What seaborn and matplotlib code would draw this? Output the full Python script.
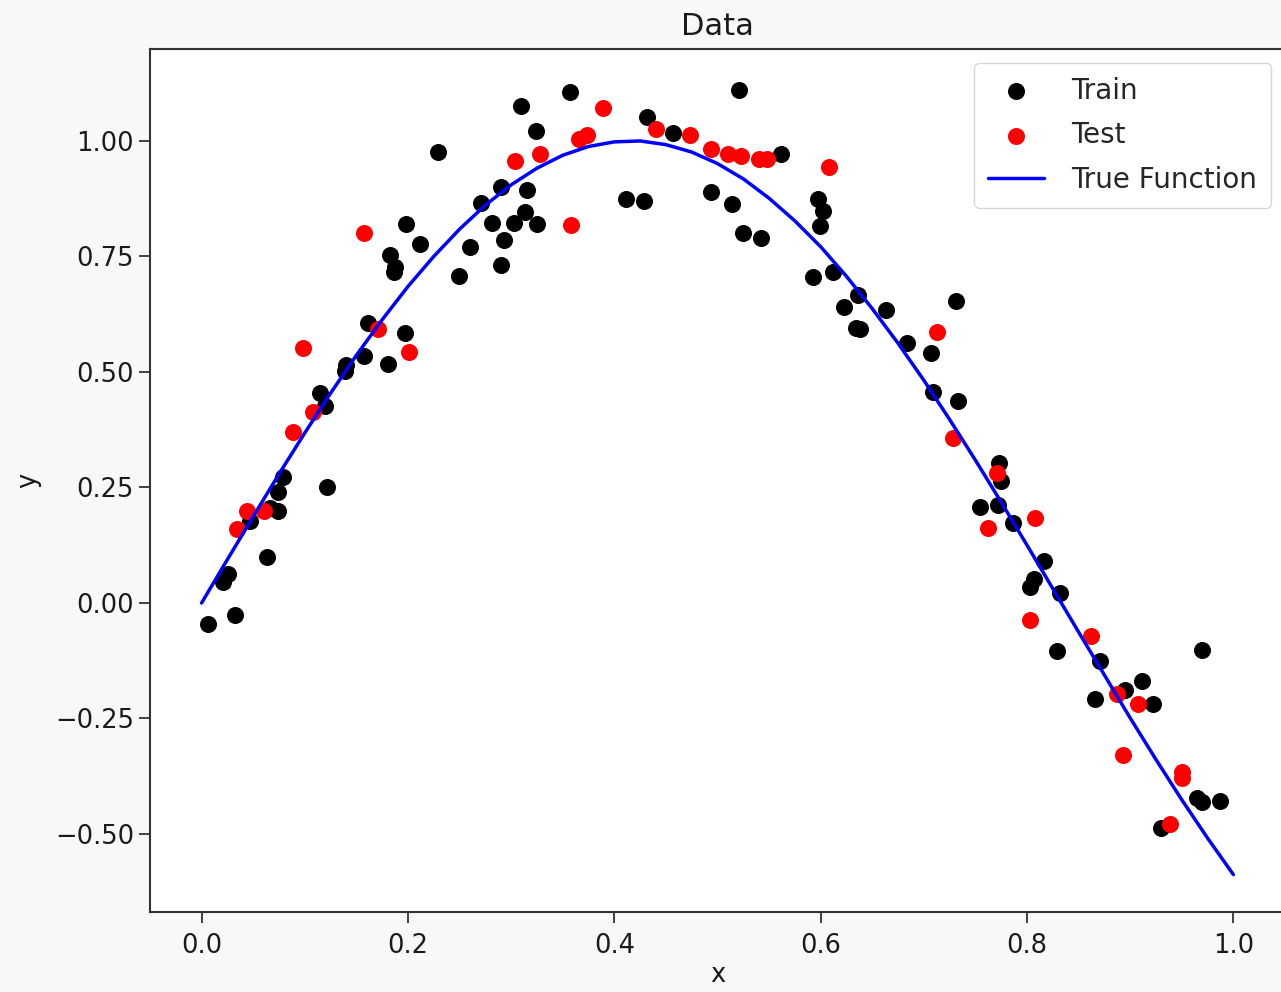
import numpy as np
import pandas as pd
import matplotlib
matplotlib.use("Agg")
import matplotlib.pyplot as plt
import seaborn as sns

# values
TRAIN_X = [0.006, 0.021, 0.026, 0.032, 0.047, 0.063, 0.066, 0.074, 0.074, 0.079,
           0.115, 0.120, 0.122, 0.139, 0.140, 0.157, 0.161, 0.181, 0.183, 0.186,
           0.187, 0.197, 0.198, 0.212, 0.229, 0.249, 0.260, 0.271, 0.281, 0.290,
           0.290, 0.293, 0.303, 0.310, 0.313, 0.315, 0.324, 0.325, 0.357, 0.411,
           0.429, 0.432, 0.457, 0.494, 0.514, 0.521, 0.525, 0.542, 0.562, 0.593,
           0.597, 0.599, 0.602, 0.612, 0.623, 0.634, 0.638, 0.636, 0.663, 0.684,
           0.707, 0.709, 0.731, 0.733, 0.754, 0.772, 0.773, 0.775, 0.786, 0.803,
           0.807, 0.816, 0.829, 0.832, 0.866, 0.871, 0.895, 0.911, 0.922, 0.930,
           0.965, 0.970, 0.970, 0.987]
TRAIN_Y = [-0.046, 0.046, 0.062, -0.026, 0.178, 0.100, 0.205, 0.198, 0.240, 0.272,
           0.454, 0.426, 0.252, 0.501, 0.515, 0.535, 0.605, 0.517, 0.753, 0.716,
           0.727, 0.584, 0.820, 0.777, 0.977, 0.707, 0.771, 0.865, 0.822, 0.900,
           0.732, 0.786, 0.822, 1.075, 0.846, 0.894, 1.022, 0.820, 1.105, 0.874,
           0.869, 1.051, 1.017, 0.889, 0.864, 1.110, 0.801, 0.790, 0.972, 0.706,
           0.874, 0.815, 0.849, 0.717, 0.640, 0.596, 0.594, 0.667, 0.635, 0.563,
           0.540, 0.457, 0.654, 0.438, 0.208, 0.212, 0.302, 0.264, 0.174, 0.035,
           0.051, 0.091, -0.105, 0.021, -0.208, -0.125, -0.188, -0.169, -0.219, -0.488,
           -0.423, -0.430, -0.102, -0.429]

TEST_X = [0.034, 0.044, 0.060, 0.089, 0.098, 0.108, 0.157, 0.171, 0.201, 0.304,
          0.328, 0.358, 0.366, 0.374, 0.389, 0.440, 0.473, 0.494, 0.510, 0.523,
          0.540, 0.548, 0.608, 0.713, 0.728, 0.762, 0.771, 0.803, 0.808, 0.862,
          0.887, 0.893, 0.908, 0.939, 0.950, 0.950]
TEST_Y = [0.160, 0.198, 0.198, 0.369, 0.552, 0.414, 0.800, 0.593, 0.544, 0.957,
          0.972, 0.817, 1.004, 1.013, 1.071, 1.026, 1.012, 0.983, 0.972, 0.967,
          0.962, 0.962, 0.943, 0.586, 0.358, 0.163, 0.281, -0.037, 0.183, -0.071,
          -0.196, -0.330, -0.219, -0.479, -0.365, -0.378]

CURVE_X = [0.000, 0.025, 0.050, 0.075, 0.100, 0.125, 0.150, 0.175, 0.200, 0.225,
           0.250, 0.275, 0.300, 0.325, 0.350, 0.375, 0.400, 0.425, 0.450, 0.475,
           0.500, 0.525, 0.550, 0.575, 0.600, 0.625, 0.650, 0.675, 0.700, 0.725,
           0.750, 0.775, 0.800, 0.825, 0.850, 0.875, 0.900, 0.925, 0.950, 0.975,
           1.000]
CURVE_Y = [0.000, 0.094, 0.187, 0.279, 0.368, 0.454, 0.536, 0.613, 0.685, 0.750,
           0.809, 0.861, 0.905, 0.941, 0.969, 0.988, 0.998, 1.000, 0.992, 0.976,
           0.951, 0.918, 0.876, 0.827, 0.771, 0.707, 0.637, 0.562, 0.482, 0.397,
           0.309, 0.218, 0.125, 0.031, -0.063, -0.156, -0.249, -0.339, -0.426, -0.509,
           -0.588]

FS = 18.5
SPINE = "#333333"
TXT = "#1a1a1a"

sns.set_style("ticks")
plt.rcParams["font.family"] = ["DejaVu Sans"]

train = pd.DataFrame({"x": TRAIN_X, "y": TRAIN_Y})
test = pd.DataFrame({"x": TEST_X, "y": TEST_Y})
curve = pd.DataFrame({"x": CURVE_X, "y": CURVE_Y})

fig = plt.figure(figsize=(12.81, 9.92), dpi=100, facecolor="#f8f8f8")
ax = fig.add_axes([0.1171, 0.0806, 0.886, 0.870])
ax.set_facecolor("white")

sns.scatterplot(data=train, x="x", y="y", color="black", s=150, linewidth=0,
                label="Train", ax=ax, zorder=3)
sns.scatterplot(data=test, x="x", y="y", color="red", s=150, linewidth=0,
                label="Test", ax=ax, zorder=3)
sns.lineplot(data=curve, x="x", y="y", color="blue", linewidth=2.5,
             label="True Function", ax=ax, zorder=4)

ax.set_xlim(-0.05, 1.05)
ax.set_ylim(-0.669, 1.199)
ax.set_xticks([0.0, 0.2, 0.4, 0.6, 0.8, 1.0])
ax.set_yticks([-0.5, -0.25, 0.0, 0.25, 0.5, 0.75, 1.0])
ax.yaxis.set_major_formatter(matplotlib.ticker.FormatStrFormatter("%.2f"))
ax.set_yticklabels([t.get_text().replace("-", "\u2212") for t in ax.get_yticklabels()])

for spine in ax.spines.values():
    spine.set_visible(True)
    spine.set_edgecolor(SPINE)
    spine.set_linewidth(1.5)
ax.tick_params(axis="both", direction="out", length=8, width=1.3,
               colors=SPINE, labelcolor=TXT, labelsize=FS)
ax.tick_params(axis="x", pad=7)

ax.set_title("Data", fontsize=22, color=TXT, pad=10)
ax.set_xlabel("x", fontsize=FS, color=TXT, labelpad=2)
ax.set_ylabel("y", fontsize=FS, color=TXT, labelpad=10)

ax.legend(loc="upper right", fontsize=20, framealpha=0.8, edgecolor="#cccccc",
          fancybox=True, labelspacing=0.6, handletextpad=1.0, borderpad=0.5)

fig.savefig("out.png", dpi=100, facecolor=fig.get_facecolor())
